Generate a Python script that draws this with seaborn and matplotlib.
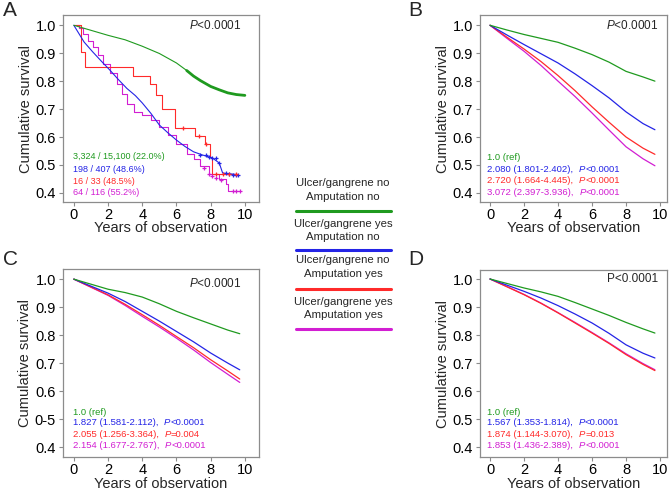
import pandas as pd
import matplotlib
matplotlib.use('Agg')
import matplotlib.pyplot as plt
import seaborn as sns
from matplotlib.lines import Line2D

# groups / colours
groups = ['g1', 'g2', 'g3', 'g4']
colors = ['#1f9a1f', '#2424e6', '#ff2a2a', '#d21ed2']
legend_labels = ['Ulcer/gangrene no\nAmputation no',
                 'Ulcer/gangrene yes\nAmputation no',
                 'Ulcer/gangrene no\nAmputation yes',
                 'Ulcer/gangrene yes\nAmputation yes']

# PANEL A (Kaplan-Meier, unadjusted)
a_green_t = [0, 1, 2, 3, 4, 5, 6, 6.6, 7, 7.4, 8, 8.5, 9, 9.5, 10]
a_green_s = [1.0, 0.982, 0.964, 0.948, 0.925, 0.899, 0.865, 0.838, 0.818, 0.802, 0.781, 0.769,
             0.758, 0.752, 0.749]
a_blue_t = [0, 0.3, 0.6, 1.1, 1.6, 2.1, 2.6, 3.1, 3.6, 4.0, 4.5, 5.0, 5.5, 6.0, 6.5, 7.0, 7.5, 8.1,
            8.5, 8.7, 9.6]
a_blue_s = [1.0, 0.97, 0.94, 0.905, 0.872, 0.84, 0.806, 0.774, 0.748, 0.722, 0.685, 0.643, 0.615,
            0.589, 0.566, 0.547, 0.536, 0.525, 0.507, 0.471, 0.465]
a_red_t = [0, 0.39, 0.64, 3.47, 4.48, 4.83, 5.17, 5.9, 7.07, 7.66, 7.95, 8.05, 9.6]
a_red_s = [1.0, 0.904, 0.85, 0.82, 0.79, 0.749, 0.70, 0.632, 0.605, 0.575, 0.527, 0.467, 0.467]
a_mag_t = [0, 0.3, 0.55, 0.8, 1.1, 1.4, 1.7, 2.1, 2.5, 2.8, 3.1, 3.5, 4.0, 4.5, 5.0, 5.5, 6.0,
           6.6, 7.0, 7.4, 7.9, 8.5, 8.9, 9.0, 9.7]
a_mag_s = [1.0, 0.99, 0.97, 0.945, 0.922, 0.893, 0.862, 0.83, 0.79, 0.755, 0.719, 0.689, 0.677,
           0.66, 0.635, 0.607, 0.575, 0.539, 0.52, 0.497, 0.467, 0.449, 0.431, 0.407, 0.407]
# censoring marks
a_blue_ct = [7.4, 7.7, 7.9, 8.1, 8.3, 8.5, 8.9, 9.1, 9.3, 9.5, 9.6]
a_blue_cs = [0.536, 0.536, 0.53, 0.525, 0.525, 0.507, 0.471, 0.467, 0.465, 0.465, 0.465]
a_red_ct = [6.4, 7.3, 7.7, 8.3, 8.7, 9.1, 9.5]
a_red_cs = [0.632, 0.605, 0.575, 0.467, 0.467, 0.467, 0.467]
a_mag_ct = [7.6, 7.9, 8.1, 8.3, 8.6, 9.3, 9.5, 9.7]
a_mag_cs = [0.49, 0.467, 0.46, 0.452, 0.445, 0.407, 0.407, 0.407]

# PANELS B-D (adjusted curves)
years = [0, 1, 2, 3, 4, 5, 6, 7, 8, 9, 9.7]
b_surv = [
    [1.0, 0.983, 0.967, 0.953, 0.939, 0.918, 0.895, 0.868, 0.835, 0.815, 0.80],
    [1.0, 0.965, 0.931, 0.898, 0.865, 0.826, 0.784, 0.74, 0.69, 0.648, 0.626],
    [1.0, 0.957, 0.915, 0.87, 0.82, 0.766, 0.708, 0.653, 0.60, 0.56, 0.538],
    [1.0, 0.953, 0.907, 0.856, 0.80, 0.745, 0.686, 0.625, 0.565, 0.522, 0.497],
]
c_surv = [
    [1.0, 0.982, 0.964, 0.952, 0.936, 0.912, 0.885, 0.862, 0.84, 0.818, 0.805],
    [1.0, 0.975, 0.95, 0.92, 0.885, 0.85, 0.813, 0.776, 0.736, 0.70, 0.676],
    [1.0, 0.972, 0.944, 0.91, 0.873, 0.835, 0.795, 0.755, 0.712, 0.672, 0.643],
    [1.0, 0.971, 0.942, 0.906, 0.867, 0.829, 0.789, 0.747, 0.702, 0.66, 0.631],
]
d_surv = [
    [1.0, 0.984, 0.968, 0.954, 0.938, 0.916, 0.893, 0.87, 0.845, 0.822, 0.807],
    [1.0, 0.978, 0.956, 0.932, 0.905, 0.875, 0.843, 0.806, 0.765, 0.735, 0.718],
    [1.0, 0.972, 0.944, 0.913, 0.879, 0.843, 0.807, 0.77, 0.73, 0.695, 0.673],
    [1.0, 0.973, 0.945, 0.914, 0.88, 0.845, 0.809, 0.772, 0.733, 0.698, 0.676],
]

# annotation texts (the "P" after the comma is set in italics)
a_text = ['3,324 / 15,100 (22.0%)', '198 / 407 (48.6%)', '16 / 33 (48.5%)', '64 / 116 (55.2%)']
b_text = ['1.0 (ref)', '2.080 (1.801-2.402),  P<0.0001',
          '2.720 (1.664-4.445),  P<0.0001', '3.072 (2.397-3.936),  P<0.0001']
c_text = ['1.0 (ref)', '1.827 (1.581-2.112),  P<0.0001',
          '2.055 (1.256-3.364),  P=0.004', '2.154 (1.677-2.767),  P<0.0001']
d_text = ['1.0 (ref)', '1.567 (1.353-1.814),  P<0.0001',
          '1.874 (1.144-3.070),  P=0.013', '1.853 (1.436-2.389),  P<0.0001']
y_ticks = [0.4, 0.5, 0.6, 0.7, 0.8, 0.9, 1.0]
y_labels = ['0.4', '0.5', '0.6', '0.7', '0.8', '0.9', '1.0']
y_labels_c = ['0.4', '0-5', '0.6', '0.7', '0.8', '0.9', '1.0']
x_ticks = [0, 2, 4, 6, 8, 10]

sns.set_style('ticks')
plt.rcParams['font.family'] = ['Liberation Sans', 'DejaVu Sans']
plt.rcParams['mathtext.fontset'] = 'custom'
plt.rcParams['mathtext.rm'] = 'Liberation Sans'
plt.rcParams['mathtext.it'] = 'Liberation Sans:italic'
stat_font = ['Liberation Sans Narrow', 'Liberation Sans']

fig = plt.figure(figsize=(6.69, 4.91), dpi=100)
ax_a = fig.add_axes([0.094, 0.589, 0.293, 0.380])
ax_b = fig.add_axes([0.7175, 0.589, 0.2795, 0.380])
ax_c = fig.add_axes([0.094, 0.069, 0.293, 0.383])
ax_d = fig.add_axes([0.7175, 0.069, 0.2795, 0.381])


def style_axis(ax, xlim, ylim, ylabels):
    ax.set_xlim(*xlim)
    ax.set_ylim(*ylim)
    ax.set_xticks(x_ticks)
    ax.set_yticks(y_ticks)
    ax.set_yticklabels(ylabels)
    for sp in ax.spines.values():
        sp.set_visible(True)
        sp.set_color('#8c8c8c')
        sp.set_linewidth(0.9)
    ax.tick_params(axis='both', colors='#8c8c8c', labelcolor='black', labelsize=10.5,
                   length=3, width=0.8, pad=2)
    ax.tick_params(axis='x', pad=1.5)
    ax.set_xlabel('Years of observation', fontsize=10.5, labelpad=-0.5)
    ax.set_ylabel('Cumulative survival', fontsize=10.5, labelpad=2)


def add_stats(ax, texts, x0, ys, fs):
    for t, c, y in zip(texts, colors, ys):
        if 'P' not in t:
            ax.text(x0, y, t, color=c, fontsize=fs, va='center', ha='left', family=stat_font)
            continue
        head, tail = t.rsplit('P', 1)
        prev = ax.text(x0, y, head, color=c, fontsize=fs, va='center', ha='left',
                       family=stat_font)
        for part, style in [('P', 'italic'), (tail, 'normal')]:
            prev = ax.annotate(part, xy=(1, 0), xycoords=prev, va='bottom', ha='left',
                               color=c, fontsize=fs, family=stat_font, style=style)


# ----- A
a_series = [(a_green_t, a_green_s, colors[0], 'default'),
            (a_blue_t, a_blue_s, colors[1], 'default'),
            (a_red_t, a_red_s, colors[2], 'steps-post'),
            (a_mag_t, a_mag_s, colors[3], 'steps-post')]
for t, s, c, ds in reversed(a_series):
    df = pd.DataFrame({'t': t, 's': s})
    sns.lineplot(data=df, x='t', y='s', ax=ax_a, color=c, lw=0.8, drawstyle=ds,
                 estimator=None, sort=False)
# dense censoring on the large group
dense = pd.DataFrame({'t': a_green_t[7:], 's': a_green_s[7:]})
sns.lineplot(data=dense, x='t', y='s', ax=ax_a, color=colors[0], lw=2.0,
             estimator=None, sort=False)
for ct, cs, c in [(a_blue_ct, a_blue_cs, colors[1]), (a_red_ct, a_red_cs, colors[2]),
                  (a_mag_ct, a_mag_cs, colors[3])]:
    ax_a.plot(ct, cs, ls='none', marker='+', ms=3.5, mew=0.9, color=c)
style_axis(ax_a, (-0.64, 10.82), (0.368, 1.036), y_labels)
add_stats(ax_a, a_text, -0.05, [0.529, 0.485, 0.442, 0.400], 6.5)

# ----- B, C, D
panels = [
    (ax_b, b_surv, b_text, y_labels, (-0.59, 10.41), (0.368, 1.036),
     [0.525, 0.485, 0.443, 0.40], -0.15),
    (ax_c, c_surv, c_text, y_labels_c, (-0.64, 10.82), (0.364, 1.036),
     [0.525, 0.486, 0.446, 0.407], -0.05),
    (ax_d, d_surv, d_text, y_labels, (-0.59, 10.41), (0.364, 1.032),
     [0.525, 0.486, 0.446, 0.407], -0.15),
]
for ax, surv, texts, ylabels, xlim, ylim, ys, x0 in panels:
    long = pd.concat([pd.DataFrame({'year': years, 'surv': s, 'grp': g})
                      for g, s in zip(groups, surv)])
    # magenta drawn first so that red stays on top where they coincide
    for g, c in [('g4', colors[3]), ('g3', colors[2]), ('g2', colors[1]), ('g1', colors[0])]:
        sns.lineplot(data=long[long.grp == g], x='year', y='surv', ax=ax, color=c,
                     lw=0.9, estimator=None, sort=False)
    style_axis(ax, xlim, ylim, ylabels)
    add_stats(ax, texts, x0, ys, 6.8)

ax_a.text(9.8, 1.0, r'$\it{P}$<0.0001', ha='right', va='center', fontsize=8.5)
ax_b.text(9.9, 1.0, r'$\it{P}$<0.0001', ha='right', va='center', fontsize=8.5)
ax_c.text(9.8, 0.986, r'$\it{P}$<0.0001', ha='right', va='center', fontsize=8.5)
ax_d.text(9.9, 1.0, 'P<0.0001', ha='right', va='center', fontsize=8.5)

# panel letters
for lab, x, y in [('A', 0.004, 0.998), ('B', 0.610, 0.998), ('C', 0.004, 0.49), ('D', 0.610, 0.49)]:
    fig.text(x, y, lab, fontsize=15, va='top', ha='left')

# centre legend
leg_text_y = [(183, 197), (224, 237), (260, 274), (302, 315)]
leg_line_y = [211, 250, 289, 329]
for lab, c, (y1, y2), yl in zip(legend_labels, colors, leg_text_y, leg_line_y):
    l1, l2 = lab.split('\n')
    fig.text(343 / 669, 1 - y1 / 491, l1, ha='center', va='center', fontsize=8.2)
    fig.text(343 / 669, 1 - y2 / 491, l2, ha='center', va='center', fontsize=8.2)
    fig.add_artist(Line2D([296 / 669, 391 / 669], [1 - yl / 491, 1 - yl / 491],
                          color=c, lw=2.2, transform=fig.transFigure))

fig.savefig('out.png', dpi=100)
